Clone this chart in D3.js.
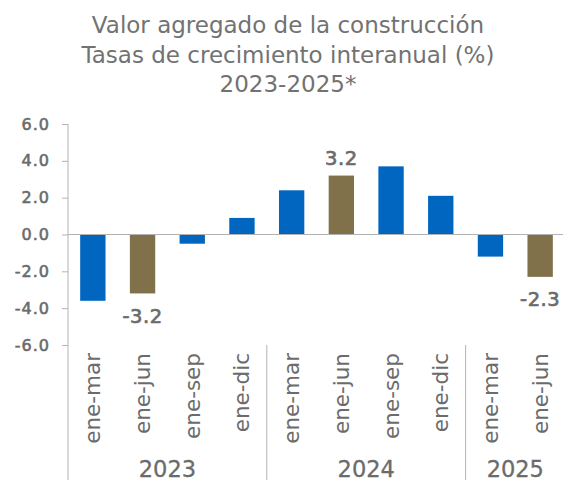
<!DOCTYPE html>
<html><head><meta charset="utf-8">
<script src="https://cdn.jsdelivr.net/npm/d3@7"></script>
<style>body{margin:0;background:#fff}svg{display:block}text{font-family:"DejaVu Sans",sans-serif}</style>
</head><body>
<svg id="c" width="563" height="480"></svg>
<script>
const titleLines = ["Valor agregado de la construcción","Tasas de crecimiento interanual (%)","2023-2025*"];
const categories = ["ene-mar","ene-jun","ene-sep","ene-dic","ene-mar","ene-jun","ene-sep","ene-dic","ene-mar","ene-jun"];
const years = ["2023","2023","2023","2023","2024","2024","2024","2024","2025","2025"];
const values = [-3.6,-3.2,-0.5,0.9,2.4,3.2,3.7,2.1,-1.2,-2.3];
const highlighted = [false,true,false,false,false,true,false,false,false,true];
const yTicks = [6,4,2,0,-2,-4,-6];

const svg = d3.select("#c");
const gray = "#6b6b6b", axisCol = "#b3b3b3";
const blue = "#0066c0", brown = "#80714b";

const x = d3.scaleBand().domain(d3.range(values.length)).range([68, 565]).paddingInner(0.49).paddingOuter(0.245);
const y = d3.scaleLinear().domain([-6, 6]).range([345, 124]);

// title
svg.append("g").selectAll("text").data(titleLines).join("text")
  .attr("x", 288).attr("y", (d,i)=>33 + i*29.5).attr("text-anchor","middle")
  .attr("font-size", 23).attr("fill", "#727272").text(d=>d);

// y axis
const yAxis = d3.axisLeft(y).tickValues(yTicks).tickFormat(d3.format(".1f")).tickSize(6).tickPadding(12);
const ga = svg.append("g").attr("transform","translate(68,0)").call(yAxis);
ga.select(".domain").remove();
ga.selectAll(".tick line").attr("stroke", axisCol);
ga.selectAll(".tick text").attr("fill", gray).attr("font-size", 16)
  .attr("stroke", gray).attr("stroke-width", 0.6)
  .attr("letter-spacing", 1).attr("font-family", '"DejaVu Sans",sans-serif')
  .text(d=>d3.format(".1f")(d).replace("−","-"));
svg.append("line").attr("x1",68).attr("x2",68).attr("y1",y(6)).attr("y2",480).attr("stroke",axisCol);

// bars
svg.append("g").selectAll("rect").data(values).join("rect")
  .attr("x",(d,i)=>x(i)).attr("width",x.bandwidth())
  .attr("y",d=>y(Math.max(0,d))).attr("height",d=>Math.abs(y(d)-y(0)))
  .attr("fill",(d,i)=>highlighted[i]?brown:blue);

// zero line
svg.append("line").attr("x1",68).attr("x2",563).attr("y1",y(0)).attr("y2",y(0)).attr("stroke",axisCol).attr("stroke-width",1.2);

// value labels
svg.append("g").selectAll("text").data(values.map((v,i)=>({v,i})).filter(d=>highlighted[d.i])).join("text")
  .attr("x",d=>x(d.i)+x.bandwidth()/2)
  .attr("y",d=>d.v>=0 ? y(d.v)-11 : y(d.v)+29.5)
  .attr("text-anchor","middle").attr("font-size",19.5).attr("fill",gray)
  .attr("stroke", gray).attr("stroke-width", 0.7).attr("letter-spacing", 0.5)
  .text(d=>d3.format(".1f")(d.v).replace("−","-"));

// category labels
svg.append("g").selectAll("text").data(categories).join("text")
  .attr("transform",(d,i)=>`translate(${x(i)+x.bandwidth()/2+7.5},353) rotate(-90)`)
  .attr("text-anchor","end").attr("font-size",21.5).attr("fill",gray).text(d=>d);

// year groups
const groups = d3.groups(d3.range(values.length), i=>years[i]);
const step = x.step();
groups.forEach(([yr, idx], gi) => {
  const x0 = x(idx[0]) - x.paddingOuter()*step;
  const x1 = x(idx[idx.length-1]) + x.bandwidth() + x.paddingOuter()*step;
  svg.append("text").attr("x",(x0+x1)/2).attr("y",477).attr("text-anchor","middle")
    .attr("font-size",22.5).attr("fill",gray).attr("stroke",gray).attr("stroke-width",0.3).text(yr);
  if (gi>0) svg.append("line").attr("x1",x0).attr("x2",x0).attr("y1",345).attr("y2",480).attr("stroke",axisCol);
});
</script>
</body></html>
